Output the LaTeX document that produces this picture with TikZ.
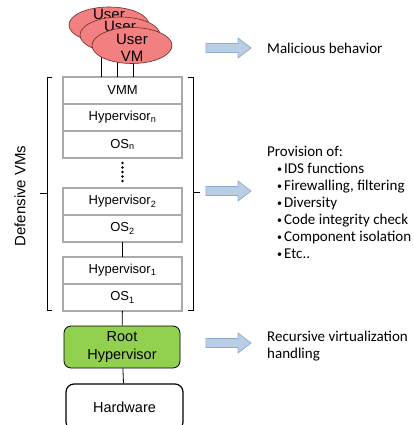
\documentclass[tikz,border=0pt]{standalone}
\usepackage{fontspec}
\setmainfont{Liberation Sans}
\newfontfamily\calfont{Carlito}
\usetikzlibrary{shapes.geometric}

\definecolor{vmred}{RGB}{242,128,128}
\definecolor{vmedge}{RGB}{110,40,40}
\definecolor{layergray}{RGB}{170,170,170}
\definecolor{rootgreen}{RGB}{146,208,80}
\definecolor{arrfill}{RGB}{185,205,229}
\definecolor{arredge}{RGB}{140,170,210}

\tikzset{
  layer/.style={draw=layergray, line width=1.4pt, fill=white, anchor=north,
    minimum width=119pt, minimum height=27pt, inner sep=0pt, outer sep=0pt,
    font=\fontsize{13}{15}\selectfont},
  uservm/.style={ellipse, draw=vmedge, fill=vmred, line width=0.6pt,
    minimum width=80pt, minimum height=36pt, inner sep=0pt},
  userlbl/.style={align=center, inner sep=0pt, font=\fontsize{15}{17.5}\selectfont},
  conn/.style={line width=0.8pt},
  brk/.style={line width=0.7pt},
  infoarrow/.style={draw=arredge, fill=arrfill, line width=0.7pt},
  note/.style={anchor=west, align=left, inner sep=0pt,
    font=\calfont\fontsize{15}{17}\selectfont},
}

\newcommand{\bul}{\hspace*{10pt}\makebox[7pt][l]{\raisebox{1pt}{\fontsize{10}{10}\selectfont •}}}

\begin{document}
\begin{tikzpicture}[x=1pt,y=-1pt]

  \useasboundingbox (0,0) rectangle (414,425);
  \clip (0,0) rectangle (414,425);

  \def\Cx{122.5};

  % vrstvy obrannych VM
  \node[layer] (vmm) at (\Cx,77) {VMM};
  \node[layer] (hypn) at (vmm.south) {Hypervisor\textsubscript{n}};
  \node[layer] (osn) at (hypn.south) {OS\textsubscript{n}};
  \foreach \i in {0,...,4}
    \fill (\Cx,{163+4.5*\i}) circle (1.4pt);
  \node[layer] (hyptwo) at (\Cx,188) {Hypervisor\textsubscript{2}};
  \node[layer] (ostwo) at (hyptwo.south) {OS\textsubscript{2}};
  \node[layer] (hypone) at (\Cx,257) {Hypervisor\textsubscript{1}};
  \node[layer] (osone) at (hypone.south) {OS\textsubscript{1}};

  \node[draw, fill=rootgreen, line width=0.8pt, rounded corners=7pt,
        minimum width=116pt, minimum height=42pt, align=center,
        font=\fontsize{14.5}{18}\selectfont] (root) at (122,347) {Root\\Hypervisor};
  \node[draw, line width=1.2pt, rounded corners=8pt,
        minimum width=117pt, minimum height=46pt,
        font=\fontsize{14.5}{18}\selectfont] (hw) at (124.5,407) {Hardware};

  \draw[conn] (ostwo) -- (hypone);
  \draw[conn] (osone) -- (root);
  \draw[conn] (root) -- (hw);

  % zavorka
  \draw[brk] (52,77) -- (47,77) -- (47,310) -- (52,310);
  \draw[brk] (47,193) -- (40,193);
  \draw[brk] (188,77) -- (193,77) -- (193,310) -- (188,310);
  \draw[brk] (193,192) -- (200,192);
  \node[rotate=90, font=\fontsize{15}{18}\selectfont] (defvm) at (20,196) {Defensive VMs};

  % uzivatelske VM
  \def\Ux{109};
  \def\Uy{25};
  \coordinate (u1) at (\Ux-8,\Uy);
  \coordinate (u2) at (\Ux+8,\Uy+10);
  \coordinate (u3) at (\Ux+24,\Uy+20);
  \foreach \u in {u1,u2,u3}
    \draw[conn] (\u) -- (\u |- vmm.north);

  \node[uservm] (vm1) at (\Ux,\Uy) {};
  \node[userlbl] at ([yshift=1.5pt]vm1.center) {User\\VM};
  \node[uservm] (vm2) at (\Ux+11,\Uy+10) {};
  \node[userlbl] at (vm2.center) {User\\VM};
  \node[uservm] (vm3) at (\Ux+23,\Uy+20.5) {};
  \node[userlbl] at ([yshift=-2.5pt]vm3.center) {User\\VM};

  % sipky a popisky
  \foreach \ay in {48,191,343}
    \draw[infoarrow] (206,\ay-4.5) -- (238,\ay-4.5) -- (238,\ay-10) -- (251,\ay)
      -- (238,\ay+10) -- (238,\ay+4.5) -- (206,\ay+4.5) -- cycle;

  \node[note] (malic) at (267,48) {Malicious behavior};
  \node[note, anchor=north west] (prov) at (267,146) {Provision of:\\
    \bul IDS functions\\
    \bul Firewalling, filtering\\
    \bul Diversity\\
    \bul Code integrity check\\
    \bul Component isolation\\
    \bul Etc..};
  \node[note] (recur) at (267,346) {Recursive virtualization\\handling};

\end{tikzpicture}
\end{document}
